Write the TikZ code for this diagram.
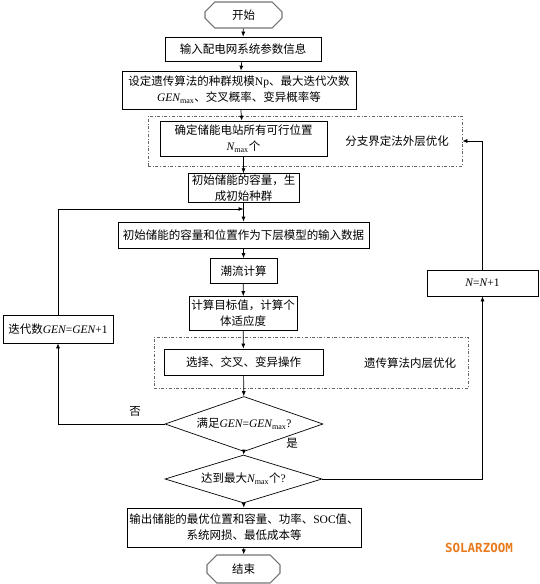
\documentclass[tikz,border=0pt]{standalone}
\usepackage{fontspec}
\setmainfont{Noto Sans CJK SC}
\newfontfamily\latfont{Liberation Serif}
\newfontfamily\wmfont{DejaVu Sans Mono}
\usetikzlibrary{shapes.geometric,shapes.misc,arrows.meta}

\definecolor{wmorange}{RGB}{232,122,28}
\newcommand{\gen}{{\latfont\itshape GEN}}
\newcommand{\nsym}{{\latfont\itshape N}}
\newcommand{\submax}{\textsubscript{\latfont max}}

\begin{document}
\begin{tikzpicture}[x=1pt,y=-1pt,
		every node/.style={font=\fontsize{11.5}{16}\selectfont},
		box/.style={draw,rectangle,line width=0.7pt,inner sep=1pt,align=center},
		term/.style={draw=black!55,line width=1.1pt,chamfered rectangle,chamfered rectangle xsep=7pt,inner sep=1pt},
		decision/.style={draw,diamond,line width=0.7pt,aspect=2.9,inner sep=0pt},
		groupbox/.style={draw=black!60,dash dot,line width=0.7pt,inner sep=0pt},
		flow/.style={-{Latex[length=5pt,width=4pt]},line width=0.7pt}]
		
		\useasboundingbox (0,0) rectangle (540,584);
		
		% Start and input
		\node[term,minimum width=77pt,minimum height=26pt] (start) at (243.5,15) {开始};
		\node[box,minimum width=156pt,minimum height=24pt] (input) at (243,49) {输入配电网系统参数信息};
		\node[box,minimum width=234pt,minimum height=38pt] (setga) at (239,90)
		{设定遗传算法的种群规模{\latfont Np}、最大迭代次数\\\gen\submax、交叉概率、变异概率等};
		
		% Outer layer: branch and bound
		\node[groupbox,minimum width=314pt,minimum height=50pt] (outer) at (305,141) {};
		\node[box,minimum width=167pt,minimum height=35pt] (sites) at (243.5,138.5)
		{确定储能电站所有可行位置\\\nsym\submax 个};
		\node (outerlbl) at (397,141) {分支界定法外层优化};
		
		% Initial population
		\node[box,minimum width=111pt,minimum height=27pt] (initpop) at (243.5,188)
		{初始储能的容量，生\\成初始种群};
		\coordinate (merge) at (243.5,209);
		\node[box,minimum width=251pt,minimum height=26pt] (lower) at (243.5,235)
		{初始储能的容量和位置作为下层模型的输入数据};
		\node[box,minimum width=67pt,minimum height=25pt] (pflow) at (243.5,271) {潮流计算};
		\node[box,minimum width=108pt,minimum height=34pt] (fitness) at (243,313.5)
		{计算目标值，计算个\\体适应度};
		
		% Inner layer: genetic algorithm
		\node[groupbox,minimum width=314pt,minimum height=51pt] (inner) at (311,362.5) {};
		\node[box,minimum width=159pt,minimum height=26pt] (genop) at (243.5,362)
		{选择、交叉、变异操作};
		\node (innerlbl) at (410,363) {遗传算法内层优化};
		
		% Decisions
		\node[decision,minimum width=158pt,minimum height=55pt] (chkgen) at (244,424)
		{满足\gen{\latfont =}\gen\submax{\latfont ?}};
		\node[decision,minimum width=157pt,minimum height=48pt] (chkn) at (243.5,479)
		{达到最大\nsym\submax 个{\latfont ?}};
		
		% Counters
		\node[box,minimum width=110pt,minimum height=28pt] (genup) at (58,329)
		{迭代数\gen{\latfont =}\gen{\latfont +1}};
		\node[box,minimum width=111pt,minimum height=26pt] (nup) at (482.5,283)
		{\nsym{\latfont =}\nsym{\latfont +1}};
		
		% Output and end
		\node[box,minimum width=234pt,minimum height=39pt] (output) at (244,527.5)
		{输出储能的最优位置和容量、功率、{\latfont SOC}值、\\系统网损、最低成本等};
		\node[term,minimum width=73pt,minimum height=28pt] (stop) at (243.5,569) {结束};
		
		% Main flow
		\draw[flow] (start) -- (input);
		\draw[flow] (input) -- (setga);
		\draw[flow] (setga) -- (sites);
		\draw[flow] (sites) -- (initpop);
		\draw[flow] (initpop) -- (lower);
		\draw[flow] (lower) -- (pflow);
		\draw[flow] (pflow) -- (fitness);
		\draw[flow] (fitness) -- (genop);
		\draw[flow] (genop) -- (chkgen);
		\draw[flow] (chkgen) -- (chkn);
		\draw[flow] (chkn) -- (output);
		\draw[flow] (output) -- (stop);
		\node (yes) at (292,443) {是};
		
		% GA loop back
		\draw[flow] (chkgen.west) -| (genup.south);
		\node (no) at (135,411) {否};
		\draw[flow] (genup.north) |- (merge);
		
		% Outer loop back
		\draw[flow] (chkn.east) -| (nup.south);
		\draw[flow] (nup.north) |- (outer.east);
		
		% Watermark
		\node[font=\wmfont\bfseries\fontsize{12.5}{14}\selectfont,text=wmorange] (mark) at (479,548) {SOLARZOOM};
		
	\end{tikzpicture}
\end{document}
